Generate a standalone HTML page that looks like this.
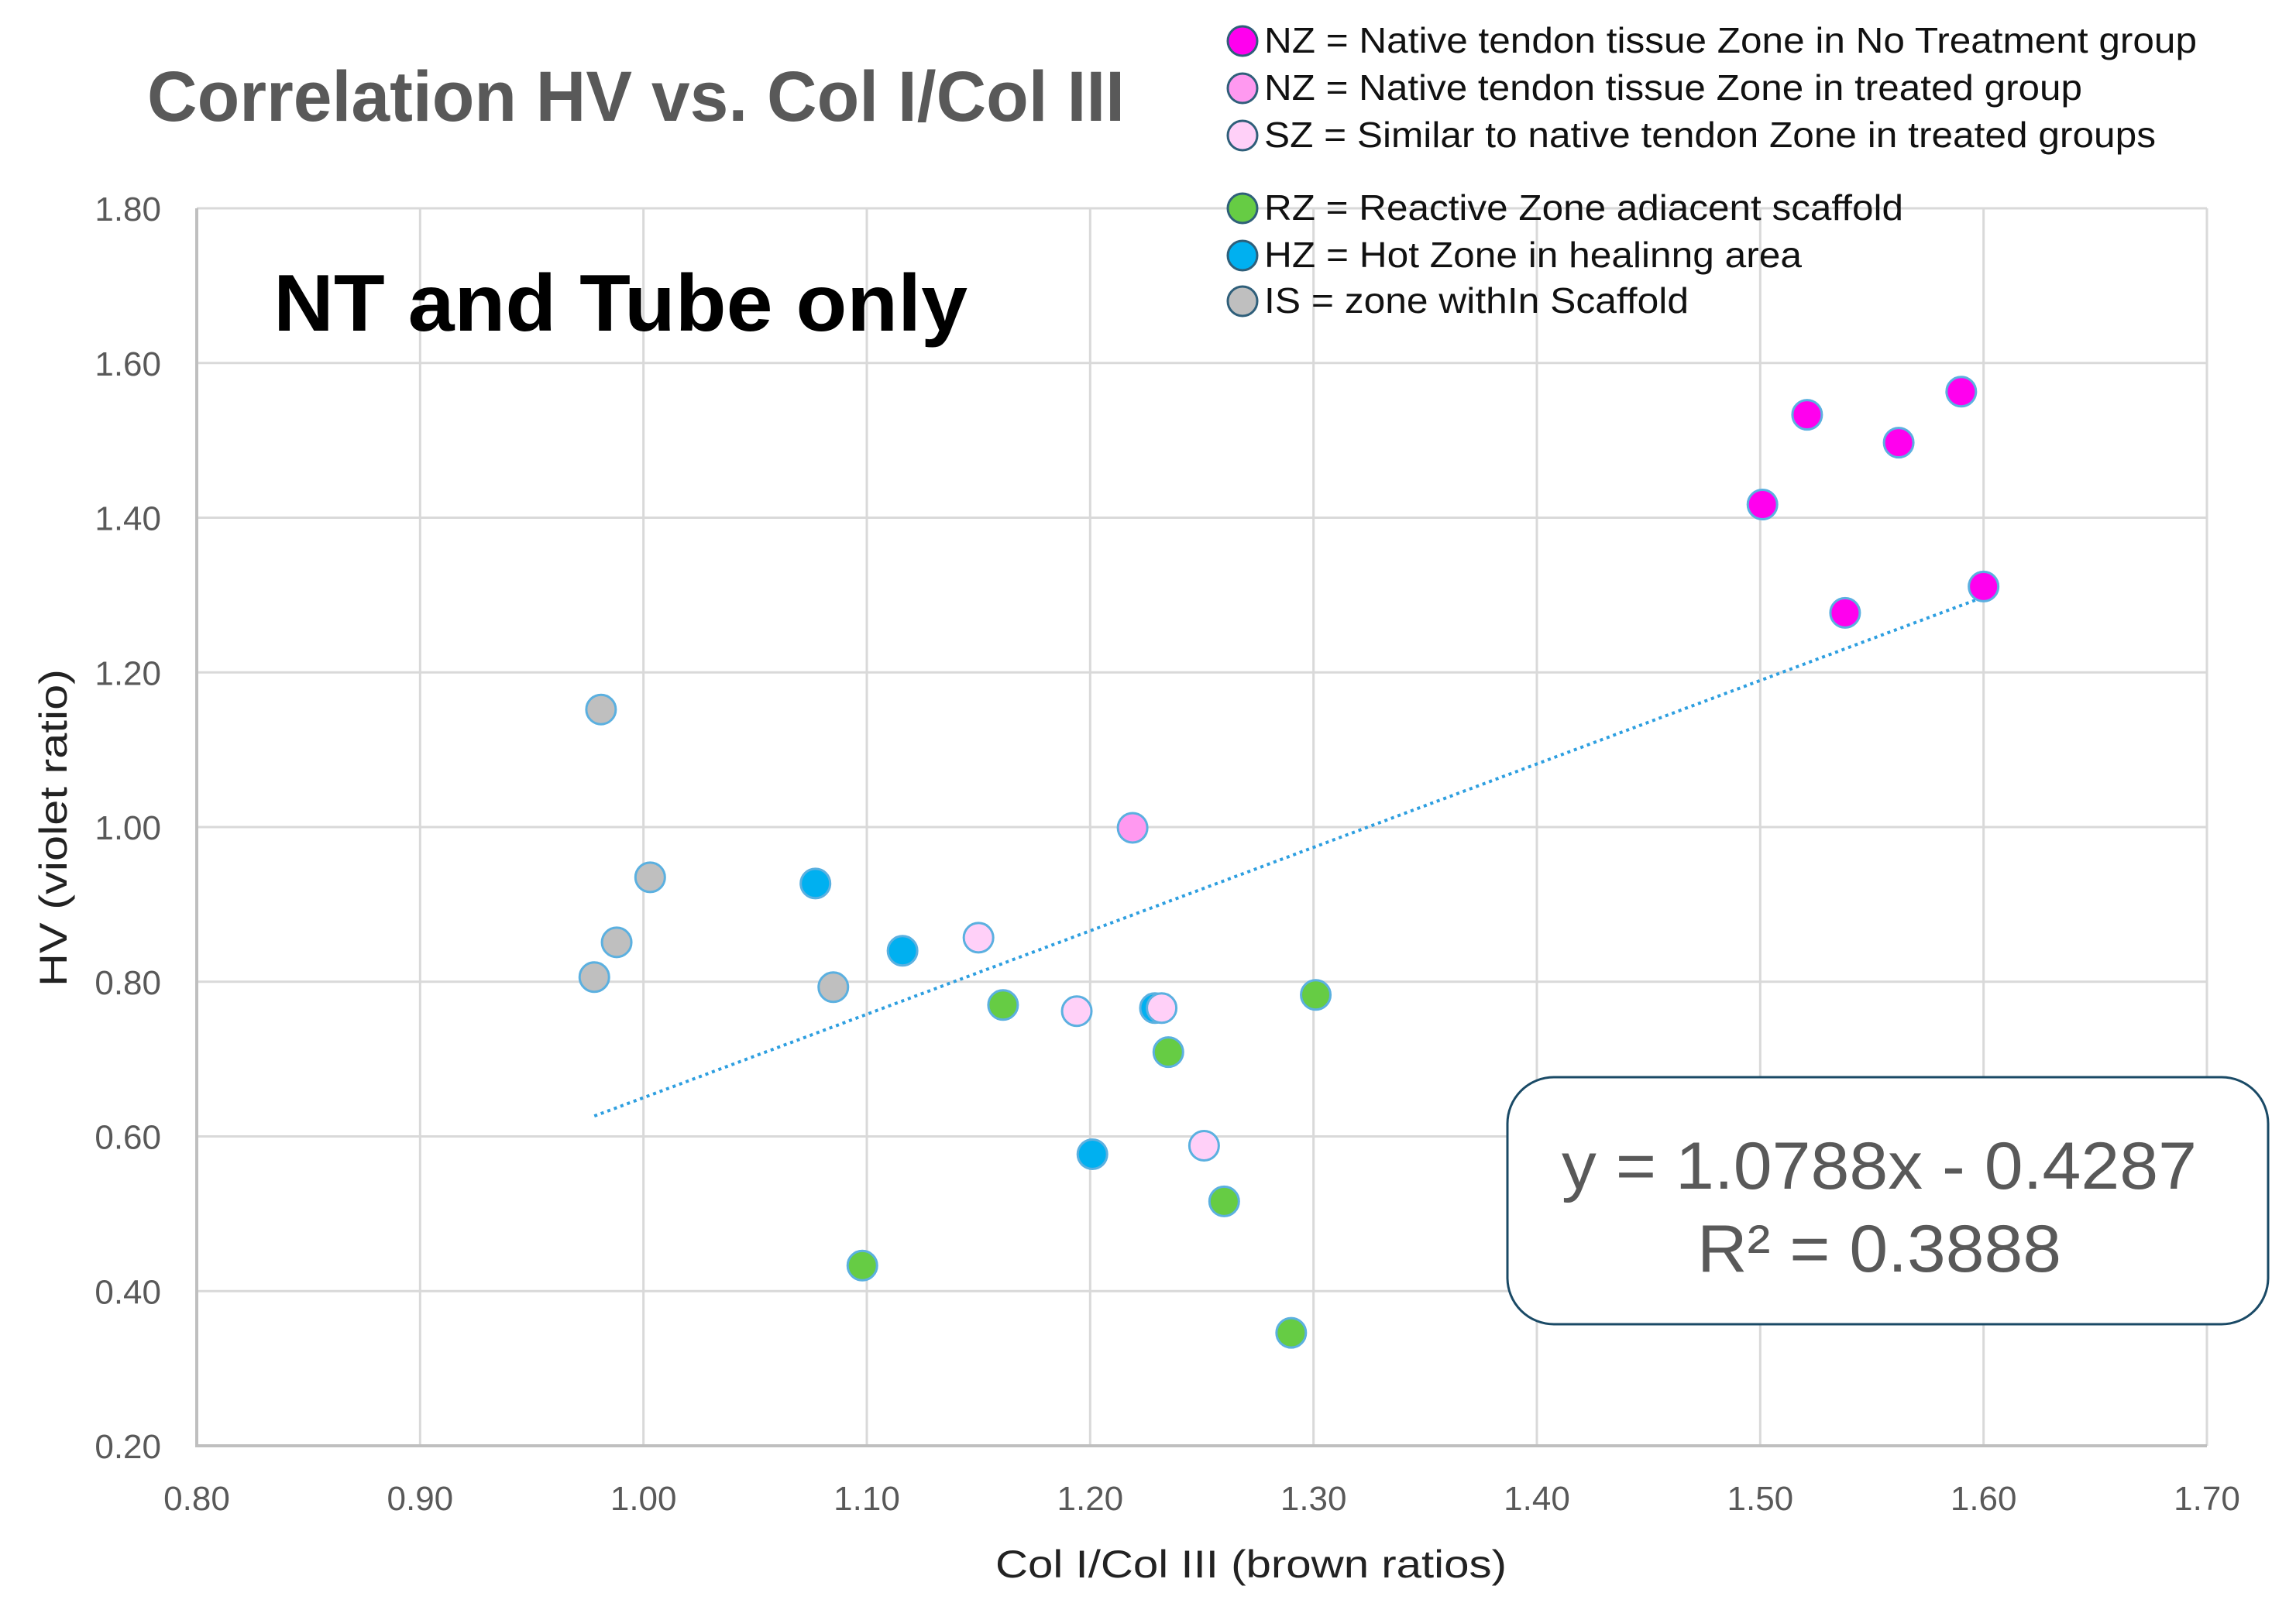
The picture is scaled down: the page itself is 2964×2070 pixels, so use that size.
<!DOCTYPE html>
<html><head><meta charset="utf-8"><style>
html,body{margin:0;padding:0;background:#fff;}
svg{display:block;font-family:"Liberation Sans",Arial,sans-serif;}
</style></head><body>
<svg id="chart" width="2964" height="2070" viewBox="0 0 2964 2070" xmlns="http://www.w3.org/2000/svg">
<rect width="2964" height="2070" fill="#fff"/>
<g id="grid"></g>
<g id="ticks"></g>
<g id="trend"></g>
<g id="points"></g>
<text x="190" y="156" font-size="92" font-weight="bold" fill="#595959" textLength="1262" lengthAdjust="spacingAndGlyphs">Correlation HV vs. Col I/Col III</text>
<text x="353" y="427" font-size="104" font-weight="bold" fill="#000" textLength="896" lengthAdjust="spacingAndGlyphs">NT and Tube only</text>
<text x="1615" y="2037" font-size="50" fill="#222" text-anchor="middle" textLength="660" lengthAdjust="spacingAndGlyphs">Col I/Col III (brown ratios)</text>
<text transform="translate(86,1069) rotate(-90)" font-size="50" fill="#222" text-anchor="middle" textLength="410" lengthAdjust="spacingAndGlyphs">HV (violet ratio)</text>
<g id="legend"></g>
<rect x="1946" y="1391" width="982" height="319" rx="60" fill="#fff" stroke="#1a4a66" stroke-width="3"/>
<text x="2426" y="1535" font-size="86" fill="#595959" text-anchor="middle" textLength="820" lengthAdjust="spacingAndGlyphs">y = 1.0788x - 0.4287</text>
<text x="2426" y="1642" font-size="86" fill="#595959" text-anchor="middle" textLength="470" lengthAdjust="spacingAndGlyphs">R² = 0.3888</text>
</svg>
<script>
const xTicks=[0.80,0.90,1.00,1.10,1.20,1.30,1.40,1.50,1.60,1.70];
const yTicks=[0.20,0.40,0.60,0.80,1.00,1.20,1.40,1.60,1.80];
const nzNoTreatX=[1.501,1.521,1.562,1.590,1.538,1.600];
const nzNoTreatY=[1.417,1.533,1.497,1.563,1.277,1.311];
const nzTreatedX=[1.219];
const nzTreatedY=[0.999];
const hzX=[1.077,1.116,1.201,1.229];
const hzY=[0.927,0.840,0.577,0.766];
const szX=[1.150,1.194,1.232,1.251];
const szY=[0.857,0.762,0.766,0.588];
const rzX=[1.161,1.235,1.301,1.260,1.098,1.290];
const rzY=[0.770,0.709,0.783,0.516,0.433,0.346];
const isX=[0.981,1.003,0.988,0.978,1.085];
const isY=[1.152,0.935,0.851,0.806,0.793];
const trendSlope=1.0788, trendIntercept=-0.4287, trendX0=0.978, trendX1=1.600;
const legendLabels=["NZ = Native tendon tissue Zone in No Treatment group","NZ = Native tendon tissue Zone in treated group","SZ = Similar to native tendon Zone in treated groups","RZ = Reactive Zone adiacent scaffold","HZ = Hot Zone in healinng area","IS = zone withIn Scaffold"];

const NS="http://www.w3.org/2000/svg";
const L=254,R=2849,T=269,B=1867;
const sx=v=>L+(v-0.8)/(0.9)*(R-L);
const sy=v=>B-(v-0.2)/(1.6)*(B-T);
function mk(tag,attrs,parent){const e=document.createElementNS(NS,tag);for(const k in attrs)e.setAttribute(k,attrs[k]);parent.appendChild(e);return e;}
const grid=document.getElementById('grid'),ticks=document.getElementById('ticks');
xTicks.forEach(v=>{const l=mk('line',{x1:sx(v),x2:sx(v),y1:T,y2:B,stroke:'#d9d9d9','stroke-width':3},grid);


const t=mk('text',{x:sx(v),y:1950,'font-size':44,fill:'#595959','text-anchor':'middle'},ticks);t.textContent=v.toFixed(2);

});
yTicks.forEach(v=>{const l=mk('line',{x1:L,x2:R,y1:sy(v),y2:sy(v),stroke:'#d9d9d9','stroke-width':3},grid);


const t=mk('text',{x:208,y:sy(v)+16,'font-size':44,fill:'#595959','text-anchor':'end'},ticks);t.textContent=v.toFixed(2);

});
const ax=mk('path',{d:`M${L} ${T}V${B}H${R}`,fill:'none',stroke:'#bfbfbf','stroke-width':4},grid);


const tl=mk('line',{x1:sx(trendX0),y1:sy(trendSlope*trendX0+trendIntercept),x2:sx(trendX1),y2:sy(trendSlope*trendX1+trendIntercept),stroke:'#2e9fe0','stroke-width':4,'stroke-dasharray':'4 5'},document.getElementById('trend'));


const pts=document.getElementById('points');
function series(xs,ys,fill,name){xs.forEach((x,i)=>{const c=mk('circle',{cx:sx(x),cy:sy(ys[i]),r:19,fill:fill,stroke:'#5bb0e0','stroke-width':3},pts);

});}
series(isX,isY,'#bfbfbf','point-is');
series(hzX,hzY,'#00b0f0','point-hz');
series(rzX,rzY,'#66cc44','point-rz');
series(szX,szY,'#ffd0f8','point-sz');
series(nzTreatedX,nzTreatedY,'#ff99f0','point-nz-treated');
series(nzNoTreatX,nzNoTreatY,'#ff00ee','point-nz-no-treatment');
const lg=document.getElementById('legend');
const lgY=[68,129,190,284,345,404],lgW=[1204,1056,1151,825,694,548],lgC=['#ff00ee','#ff99f0','#ffd0f8','#66cc44','#00b0f0','#bfbfbf'];
legendLabels.forEach((s,i)=>{const c=mk('circle',{cx:1604,cy:lgY[i]-15,r:19,fill:lgC[i],stroke:'#2f5f7a','stroke-width':3},lg);


const t=mk('text',{x:1632,y:lgY[i],'font-size':46,fill:'#111',textLength:lgW[i],lengthAdjust:'spacingAndGlyphs'},lg);t.textContent=s;

});
</script>
</body></html>
